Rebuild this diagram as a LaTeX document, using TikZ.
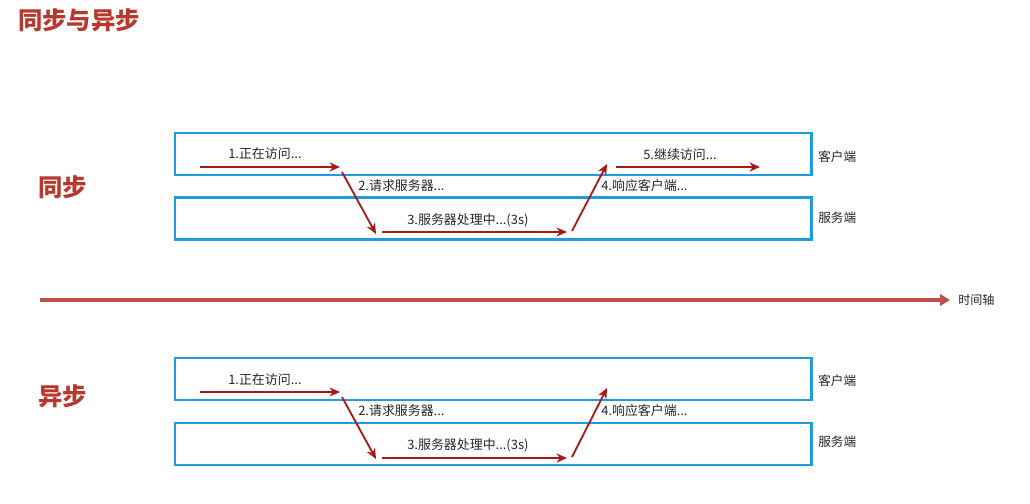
\documentclass[tikz,border=0pt]{standalone}
\usepackage{fontspec}
\setmainfont{Noto Sans CJK SC}
\usetikzlibrary{positioning, arrows.meta}

\definecolor{boxblue}{RGB}{30,155,225}
\definecolor{stepred}{RGB}{170,25,25}
\definecolor{titlered}{RGB}{185,55,45}
\definecolor{axisred}{RGB}{192,80,77}

\begin{document}
\begin{tikzpicture}[
        x=0.025cm, y=-0.025cm,
        lane/.style={rectangle, draw=boxblue, line width=2pt, minimum width=15.9cm, minimum height=1.05cm, inner sep=0pt},
        step_arrow/.style={draw=stepred, line width=1.3pt, -{Stealth[length=7.5pt, width=6.5pt]}},
        step_label/.style={anchor=west, font=\fontsize{9.2}{11}\selectfont, text=black!85, inner sep=0pt},
        side_label/.style={anchor=west, font=\fontsize{9}{11}\selectfont, text=black!85, inner sep=0pt},
        mode_label/.style={anchor=west, font=\fontsize{17.3}{20}\selectfont\bfseries, text=titlered, inner sep=0pt}
    ]
        \useasboundingbox (0,0) rectangle (1030,504);

        % Title
        \node[mode_label] (title) at (18,20) {同步与异步};

        % Sync lanes
        \node[lane] (syncclient) at (493,154) {};
        \node[lane] (syncserver) at (493,218.5) {};
        \node[side_label] (syncclientlabel) at (818,157) {客户端};
        \node[side_label] (syncserverlabel) at (818,218) {服务端};
        \node[mode_label] (sync) at (38,187) {同步};

        % Sync steps
        \coordinate (s1a) at (200,167);
        \coordinate (s1b) at (340,167);
        \coordinate (s2a) at (342,172);
        \coordinate (s2b) at (376,234);
        \coordinate (s3a) at (382,232);
        \coordinate (s3b) at (567,232);
        \coordinate (s4a) at (572,231);
        \coordinate (s4b) at (607,164);
        \coordinate (s5a) at (616,167);
        \coordinate (s5b) at (760,167);
        \draw[step_arrow] (s1a) -- (s1b);
        \draw[step_arrow] (s2a) -- (s2b);
        \draw[step_arrow] (s3a) -- (s3b);
        \draw[step_arrow] (s4a) -- (s4b);
        \draw[step_arrow] (s5a) -- (s5b);
        \node[step_label] (s1) at (228,154) {1.正在访问...};
        \node[step_label] (s2) at (358,186) {2.请求服务器...};
        \node[step_label] (s3) at (407,220) {3.服务器处理中...(3s)};
        \node[step_label] (s4) at (601,186) {4.响应客户端...};
        \node[step_label] (s5) at (643,155) {5.继续访问...};

        % Time axis
        \coordinate (tstart) at (40,300);
        \coordinate (tend) at (950,300);
        \draw[draw=axisred, line width=2.6pt, -{Triangle[length=7pt, width=8pt]}] (tstart) -- (tend);
        \node[side_label, font=\fontsize{8.6}{10}\selectfont] (timeaxis) at (958,300) {时间轴};

        % Async lanes
        \node[lane] (asyncclient) at (493,379) {};
        \node[lane] (asyncserver) at (493,444) {};
        \node[side_label] (asyncclientlabel) at (818,381) {客户端};
        \node[side_label] (asyncserverlabel) at (818,442) {服务端};
        \node[mode_label] (async) at (38,396) {异步};

        % Async steps
        \coordinate (a1a) at (200,392);
        \coordinate (a1b) at (340,392);
        \coordinate (a2a) at (342,397);
        \coordinate (a2b) at (376,459);
        \coordinate (a3a) at (382,458);
        \coordinate (a3b) at (567,458);
        \coordinate (a4a) at (572,457);
        \coordinate (a4b) at (607,388);
        \draw[step_arrow] (a1a) -- (a1b);
        \draw[step_arrow] (a2a) -- (a2b);
        \draw[step_arrow] (a3a) -- (a3b);
        \draw[step_arrow] (a4a) -- (a4b);
        \node[step_label] (a1) at (228,380) {1.正在访问...};
        \node[step_label] (a2) at (358,411) {2.请求服务器...};
        \node[step_label] (a3) at (407,445) {3.服务器处理中...(3s)};
        \node[step_label] (a4) at (601,411) {4.响应客户端...};

    \end{tikzpicture}
\end{document}
